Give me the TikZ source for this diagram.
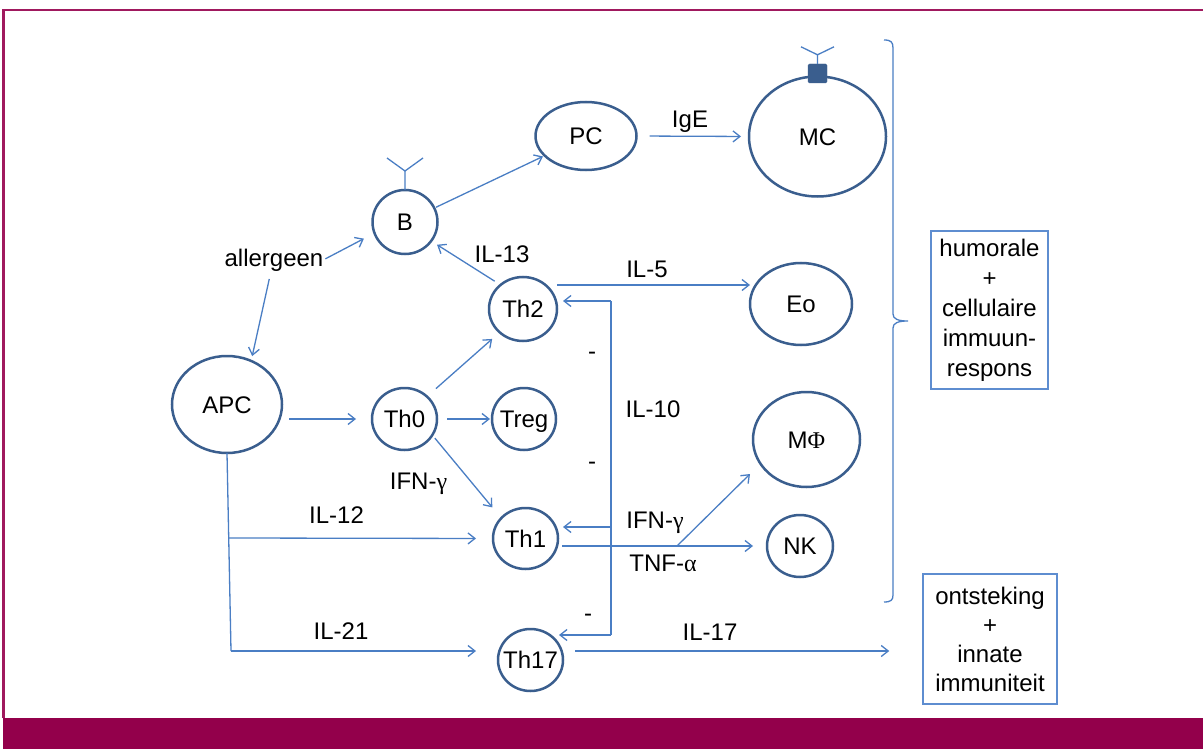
\documentclass[tikz,border=0pt]{standalone}
\usepackage{fontspec}
\setmainfont{Liberation Sans}
\newfontfamily\grk{Liberation Serif}
\usetikzlibrary{shapes.geometric,arrows.meta}
\definecolor{cellblue}{HTML}{3A5E8E}
\definecolor{lineblue}{HTML}{4A7EC4}
\definecolor{boxblue}{HTML}{5E8DD0}
\definecolor{framec}{HTML}{A0195E}
\definecolor{bandc}{HTML}{93004B}
\newcommand\ctext[1]{\makebox[0pt]{#1}}
\begin{document}
\begin{tikzpicture}[x=1pt,y=-1pt,
  every node/.style={font=\fontsize{24}{30}\selectfont},
  cell/.style={draw=cellblue,line width=2.5pt,ellipse,inner sep=0pt,outer sep=0pt,text height=17.2pt,text depth=0pt},
  con/.style={draw=lineblue,line width=1.3pt},
  arr/.style={con,-{Straight Barb[length=7pt,width=11pt,line width=1.3pt]}},
  lbl/.style={anchor=base,inner sep=0pt},
  infobox/.style={draw=boxblue,line width=1.5pt,align=center,inner sep=0pt},
  rec/.style={draw=lineblue,line width=1.3pt},
  bracestyle/.style={draw=lineblue,line width=1.3pt}
]
\useasboundingbox (0,0) rectangle (1203,749);
\fill[white] (0,0) rectangle (1203,749);
\fill[bandc] (3,718) rectangle (1203,749);
\draw[framec,line width=2.5pt] (3.5,718) -- (3.5,10) -- (1203,10);

% cells
\node[cell,minimum width=101pt,minimum height=68pt] (PC) at (586,136) {\ctext{PC}};
\node[cell,minimum width=137pt,minimum height=120pt] (MC) at (817.5,136.5) {\ctext{MC}};
\node[cell,minimum width=65pt,minimum height=64pt] (B) at (405,222) {\ctext{B}};
\node[cell,minimum width=110pt,minimum height=97pt] (APC) at (227,404.5) {\ctext{APC}};
\node[cell,minimum width=65pt,minimum height=62pt] (Th0) at (404.5,419) {\ctext{Th0}};
\node[cell,minimum width=68pt,minimum height=64pt] (Th2) at (523,309) {\ctext{Th2}};
\node[cell,minimum width=64pt,minimum height=62pt] (Treg) at (524,419) {\ctext{Treg}};
\node[cell,minimum width=65pt,minimum height=61pt] (Th1) at (525.5,538.5) {\ctext{Th1}};
\node[cell,minimum width=65pt,minimum height=62pt] (Th17) at (530.5,660) {\ctext{Th17}};
\node[cell,minimum width=102pt,minimum height=82pt] (Eo) at (801,304) {\ctext{Eo}};
\node[cell,minimum width=107pt,minimum height=95pt] (MPhi) at (806.5,439.5) {\ctext{M{\grk Φ}}};
\node[cell,minimum width=66pt,minimum height=62pt] (NK) at (800,546) {\ctext{NK}};

% receptors
\draw[rec] (B.north) -- ++(0,-19) coordinate (Bst) -- ++(-18,-13) (Bst) -- ++(18,-13);
\node[draw=cellblue,fill=cellblue,minimum size=19pt,inner sep=0pt,rounded corners=1.5pt] (MCr) at (817.5,73.5) {};
\draw[rec] (MCr.north) -- ++(0,-9) coordinate (Mst) -- ++(-16.5,-8) (Mst) -- ++(16.5,-8);

% boxes
\node[infobox,minimum width=117pt,minimum height=158pt] (hum) at (989.5,310) {humorale\\+\\cellulaire\\immuun-\\respons};
\node[infobox,minimum width=134pt,minimum height=130pt,font=\fontsize{24}{29}\selectfont] (ont) at (990,639) {ontsteking\\+\\innate\\immuniteit};

% labels
\node[lbl] (allergeen) at (274,266) {allergeen};
\node[lbl] (lIgE) at (690,128) {IgE};
\node[lbl] (l13) at (502,262) {IL-13};
\node[lbl] (l5) at (647,277) {IL-5};
\node[lbl] (l10) at (653,417) {IL-10};
\node[lbl] (lifn1) at (655,528) {IFN-{\grk γ}};
\node[lbl] (ltnf) at (663,571) {TNF-{\grk α}};
\node[lbl] (lifn2) at (418.5,489) {IFN-{\grk γ}};
\node[lbl] (l12) at (336.5,523) {IL-12};
\node[lbl] (l21) at (341,639) {IL-21};
\node[lbl] (l17) at (710,640) {IL-17};
\node[lbl] (m1) at (592,359.5) {-};
\node[lbl] (m2) at (592,469.5) {-};
\node[lbl] (m3) at (588,621.5) {-};

% connectors
\draw[arr,shorten <=2pt,shorten >=2pt] (B) -- (PC);
\draw[arr,shorten <=13pt,shorten >=8pt] (PC.east) -- (MC.west);
\draw[arr,shorten <=2pt,shorten >=12pt] (allergeen.east) -- (B.200);
\draw[arr,shorten <=8pt,shorten >=5pt] ([xshift=-3pt]allergeen.south) -- (APC.61);
\draw[arr,shorten <=7pt,shorten >=16pt] (APC.east |- Th0.west) -- (Th0.west);
\draw[arr,shorten <=12pt,shorten >=10pt] (Th0.45) -- (Th2.225);
\draw[arr,shorten <=10pt,shorten >=2pt] (Th0.east) -- (Treg.west);
\draw[arr,shorten <=4pt,shorten >=14pt] (Th0.-30) -- (Th1.140);
\draw[arr,shorten <=7pt,shorten >=7pt] (Th2.133) -- (B.-36);
\draw[arr] ([shift={(34,-24)}]Th2.center) -- ([shift={(-51,-19)}]Eo.center);

\coordinate (il10t) at (611,301);
\coordinate (il10m) at (611,527);
\coordinate (il10b) at (611,635);
\draw[con] (il10t) -- (il10b);
\draw[arr] (il10t) -- ([shift={(40,-8)}]Th2.center);
\draw[arr] (il10m) -- ([shift={(37.5,-11.5)}]Th1.center);
\draw[arr] (il10b) -- ([shift={(28.5,-25)}]Th17.center);

\draw[arr,shorten >=14pt] ([shift={(36.5,7.5)}]Th1.center) -- (NK.west);
\coordinate (tnf) at (677,546);
\draw[arr] (tnf) -- ([shift={(-56.5,34.5)}]MPhi.center);

\coordinate (il12s) at (229,538);
\coordinate (il21s) at (231,651);
\draw[con] (APC.south) -- (il21s);
\draw[arr,shorten >=17pt] (il12s) -- (Th1.west);
\draw[arr,shorten >=22pt] (il21s) -- (il21s -| Th17.west);
\draw[arr,shorten <=12pt,shorten >=33pt] (Th17.east |- il21s) -- (il21s -| ont.west);

% brace
\draw[bracestyle] (884,40) .. controls (891,40) and (893,42) .. (893,48) -- (893,314)
  .. controls (893,319) and (898,321) .. (908,321)
  .. controls (898,321) and (893,323) .. (893,328) -- (893,595)
  .. controls (893,600) and (891,602) .. (884,602);
\end{tikzpicture}
\end{document}
